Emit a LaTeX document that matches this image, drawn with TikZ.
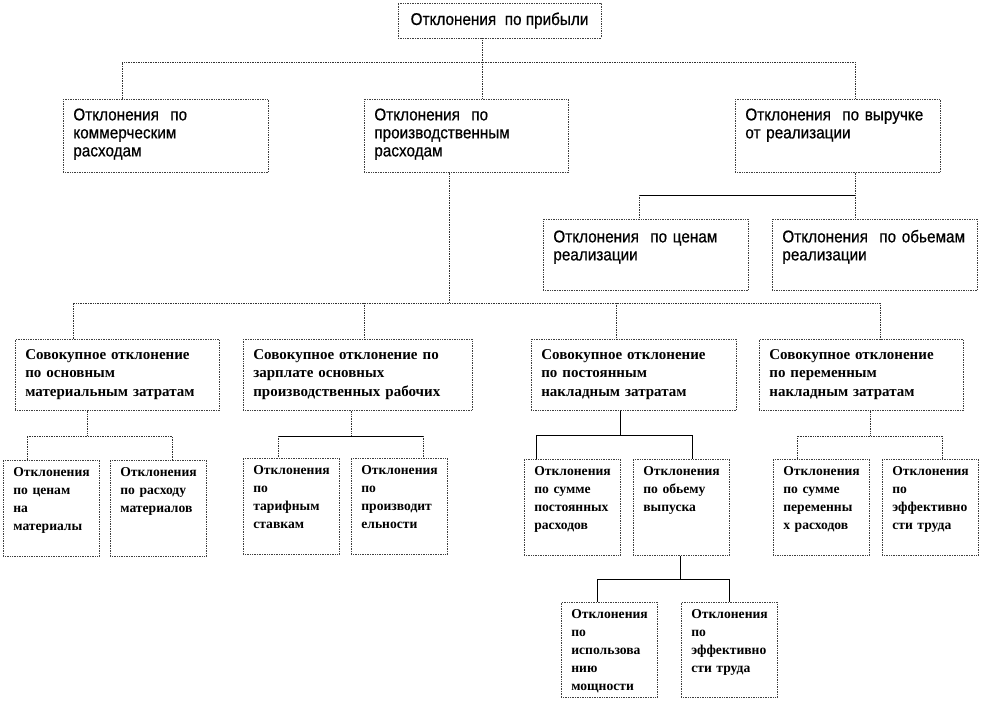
\documentclass[tikz,border=0pt]{standalone}
\usepackage{fontspec}
\setmainfont{Liberation Serif}
\newfontfamily\headfont[FakeStretch=0.9,FakeBold=0.6]{Liberation Sans}
\usetikzlibrary{positioning}

\tikzset{
  link/.style={draw=black!80, line width=0.7pt, densely dotted},
  solidlink/.style={draw=black, line width=0.7pt},
  box/.style={draw=black!75, line width=0.7pt, densely dotted, anchor=north west,
    inner xsep=10pt, inner ysep=0pt, align=left},
  headbox/.style={box, font=\headfont\fontsize{17}{18}\selectfont},
  subbox/.style={box, font=\bfseries\fontsize{15}{18.5}\selectfont},
}

\begin{document}
\begin{tikzpicture}[x=1pt,y=-1pt]
\useasboundingbox (0,0) rectangle (981,702);
% top
\node[draw=black!75, line width=0.7pt, densely dotted, minimum width=203pt, minimum height=35pt,
  inner sep=0pt, font=\headfont\fontsize{17}{18}\selectfont] (profit) at (499.5,20.5) {Отклонения~ по прибыли};
% second level
\node[headbox, text width=185pt, text height=21pt, text depth=52pt] (comm) at (63,99)
  {Отклонения~ по\\коммерческим\\расходам};
\node[headbox, text width=184pt, text height=21pt, text depth=52pt] (prod) at (364,99)
  {Отклонения~ по\\производственным\\расходам};
\node[headbox, text width=185pt, text height=21pt, text depth=52pt] (rev) at (735,99)
  {Отклонения~ по выручке\\от реализации};
\node[headbox, text width=185pt, text height=23pt, text depth=48pt] (price) at (543,219)
  {Отклонения~ по ценам\\реализации};
\node[headbox, text width=185pt, text height=23pt, text depth=48pt] (volume) at (772,219)
  {Отклонения~ по обьемам\\реализации};
% third level
\node[subbox, text width=184pt, text height=20pt, text depth=51pt] (mat) at (15,339)
  {Совокупное отклонение\\по основным\\материальным затратам};
\node[subbox, text width=209pt, text height=20pt, text depth=51pt] (wage) at (243,339)
  {Совокупное отклонение по\\зарплате основных\\производственных рабочих};
\node[subbox, text width=185pt, text height=20pt, text depth=51pt] (fixed) at (531,339)
  {Совокупное отклонение\\по постоянным\\накладным затратам};
\node[subbox, text width=184pt, text height=20pt, text depth=51pt] (var) at (759,339)
  {Совокупное отклонение\\по переменным\\накладным затратам};
% leaves
\tikzset{leaf/.style={subbox, font=\bfseries\fontsize{13.6}{18}\selectfont,
  text width=76pt, text height=16pt, text depth=80pt}}
\node[leaf] (matprice) at (3,460) {Отклонения\\по ценам\\на\\материалы};
\node[leaf] (matuse) at (110,460) {Отклонения\\по расходу\\материалов};
\node[leaf] (rate) at (243,458) {Отклонения\\по\\тарифным\\ставкам};
\node[leaf] (effic) at (351,458) {Отклонения\\по\\производит\\ельности};
\node[leaf] (fixsum) at (524,459) {Отклонения\\по сумме\\постоянных\\расходов};
\node[leaf] (fixvol) at (633,459) {Отклонения\\по обьему\\выпуска};
\node[leaf] (varsum) at (773,459) {Отклонения\\по сумме\\переменны\\х расходов};
\node[leaf] (vareff) at (882,459) {Отклонения\\по\\эффективно\\сти труда};
\node[leaf, text depth=79pt] (capuse) at (561,602) {Отклонения\\по\\использова\\нию\\мощности};
\node[leaf, text depth=79pt] (labeff) at (681,602) {Отклонения\\по\\эффективно\\сти труда};

% bus lines
\coordinate (bus1) at (0,62);
\coordinate (bus2) at (0,195);
\coordinate (bus3) at (0,303);
\coordinate (bus4) at (0,436);
\coordinate (bus5) at (0,579);

% profit -> second level
\draw[link] (482,0 |- profit.south) -- (482,0 |- prod.north);
\draw[link] (122,0 |- comm.north) -- (122,0 |- bus1) -- (855,0 |- bus1) -- (855,0 |- rev.north);
% revenue -> price, volume
\draw[link] (855,0 |- rev.south) -- (855,0 |- volume.north);
\draw[solidlink] (639,0 |- bus2) -- (855,0 |- bus2);
\draw[link] (639,0 |- bus2) -- (639,0 |- price.north);
% production -> third level
\draw[link] (449,0 |- prod.south) -- (449,0 |- bus3);
\draw[link] (73,0 |- mat.north) -- (73,0 |- bus3) -- (880,0 |- bus3) -- (880,0 |- var.north);
\draw[link] (364,0 |- bus3) -- (364,0 |- wage.north);
\draw[link] (616,0 |- bus3) -- (616,0 |- fixed.north);
% third level -> leaves
\draw[link] (87,0 |- mat.south) -- (87,0 |- bus4);
\draw[link] (27,0 |- matprice.north) -- (27,0 |- bus4) -- (172,0 |- bus4) -- (172,0 |- matuse.north);
\draw[link] (351,0 |- wage.south) -- (351,0 |- bus4);
\draw[solidlink] (278,0 |- bus4) -- (423,0 |- bus4);
\draw[link] (278,0 |- bus4) -- (278,0 |- rate.north);
\draw[link] (423,0 |- bus4) -- (423,0 |- effic.north);
\draw[solidlink] (620,0 |- fixed.south) -- (620,435);
\draw[solidlink] (536,0 |- fixsum.north) -- (536,435) -- (692,435) -- (692,0 |- fixvol.north);
\draw[link] (870,0 |- var.south) -- (870,0 |- bus4);
\draw[link] (797,0 |- varsum.north) -- (797,0 |- bus4) -- (942,0 |- bus4) -- (942,0 |- vareff.north);
% volume of output -> last level
\draw[solidlink] (680,0 |- fixvol.south) -- (680,0 |- bus5);
\draw[solidlink] (597,0 |- capuse.north) -- (597,0 |- bus5) -- (729,0 |- bus5) -- (729,0 |- labeff.north);
\end{tikzpicture}
\end{document}
